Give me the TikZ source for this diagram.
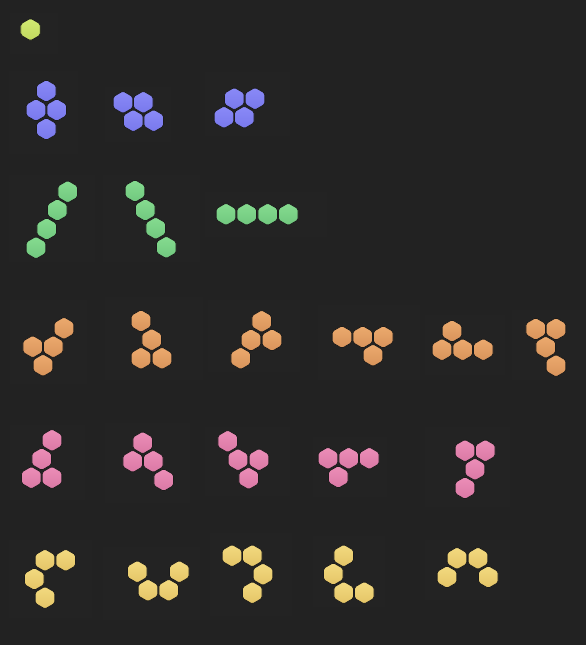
\documentclass[tikz,border=0pt]{standalone}
\usepackage{tikz}
\definecolor{bg}{HTML}{222222}
\definecolor{card}{HTML}{232323}
\definecolor{rim}{HTML}{1B1B1B}
\definecolor{limeT}{HTML}{D2EA72}\definecolor{limeB}{HTML}{C0D85E}
\definecolor{purpT}{HTML}{8A8AF7}\definecolor{purpB}{HTML}{7878EC}
\definecolor{grnT}{HTML}{86DC90}\definecolor{grnB}{HTML}{70C77E}
\definecolor{orgT}{HTML}{ECAA6E}\definecolor{orgB}{HTML}{D8935A}
\definecolor{pnkT}{HTML}{EC8EB8}\definecolor{pnkB}{HTML}{DA78A4}
\definecolor{ylwT}{HTML}{F3DA80}\definecolor{ylwB}{HTML}{E4C466}
\tikzset{
  cell/.style={draw=rim, line width=0.8pt, rounded corners=1.6pt},
  lime/.style={cell, top color=limeT, bottom color=limeB},
  purp/.style={cell, top color=purpT, bottom color=purpB},
  grn/.style={cell, top color=grnT, bottom color=grnB},
  org/.style={cell, top color=orgT, bottom color=orgB},
  pnk/.style={cell, top color=pnkT, bottom color=pnkB},
  ylw/.style={cell, top color=ylwT, bottom color=ylwB},
  cardbox/.style={fill=card, draw=none}
}
\newcommand\hexR{11.3}
\newcommand\hexcell[3]{\path[#1] (#2,#3) +(90:\hexR) -- +(150:\hexR) -- +(210:\hexR) -- +(270:\hexR) -- +(330:\hexR) -- +(30:\hexR) -- cycle;}
\begin{document}
\begin{tikzpicture}[x=1pt,y=-1pt]
\fill[bg] (0,0) rectangle (586,645);
\useasboundingbox (0,0) rectangle (586,645);
% faint cards
\foreach \a/\b/\c/\d in {10/13/58/54,
  9/71/78/154, 105/87/171/142, 205/72/290/136,
  9/175/95/262, 103/175/200/262, 205/192/327/237,
  10/300/87/384, 105/297/203/380, 208/300/300/372, 318/305/420/380, 425/315/505/375, 512/310/586/380,
  10/425/85/500, 105/423/190/503, 205/427/290/496, 313/437/387/497, 425/427/510/507,
  9/540/92/618, 103/547/200/620, 210/533/292/616, 313/536/385/607, 425/540/510/600}
  {\path[cardbox] (\a,\b) rectangle (\c,\d);}
% row 0
\hexcell{lime}{30.5}{29.5}
% purple
\foreach \x/\y in {46.3/91,36/110,56.7/110,46.3/129,
  123/102.3,143.3/102.3,133.3/120.7,153.7/120.7,
  234.3/98.7,255/98.7,224/117.3,244.3/117.3}{\hexcell{purp}{\x}{\y}}
% green
\foreach \x/\y in {67.7/191.7,57.3/210,46.7/229,36/247.7,
  135/191,145.3/210,155.7/228.3,166.3/247.3,
  226/214.3,246.7/214.3,267.7/214.3,288.3/214.3}{\hexcell{grn}{\x}{\y}}
% orange
\foreach \x/\y in {64/328.3,32.7/346.7,53.3/346.7,43/365.3,
  141/321,151.7/339.7,141/358.3,162/358.3,
  261.7/321.3,251/340,272/340,240.7/358.3,
  342/337,362.7/337,383.3/337,373/355.3,
  452/331,442/349.7,462.7/349.7,483.3/349.7,
  535.7/329,556/329,545.7/347.3,556/365.7}{\hexcell{org}{\x}{\y}}
% pink
\foreach \x/\y in {52/440.3,41.7/459,31.3/477.7,52/477.7,
  142.7/442.7,132.7/461.3,153.3/461.3,163.7/480,
  227.7/441.3,238/459.7,259/459.7,248.7/478.3,
  328/458.3,348.7/458.3,369.3/458.3,338.3/477,
  465/450.7,485.3/450.7,475/469.3,465/488}{\hexcell{pnk}{\x}{\y}}
% yellow
\foreach \x/\y in {45/560.3,65.7/560.3,34.3/579,45/597.7,
  137.3/571.7,179.3/571.7,148/590.3,168.7/590.3,
  232/555.7,252.3/555.7,263/574.3,252.3/592.7,
  343.7/555.7,333.3/574,343.7/592.7,364.3/592.7,
  457/558.3,478/558.3,447/577,488.3/577}{\hexcell{ylw}{\x}{\y}}
\end{tikzpicture}
\end{document}
